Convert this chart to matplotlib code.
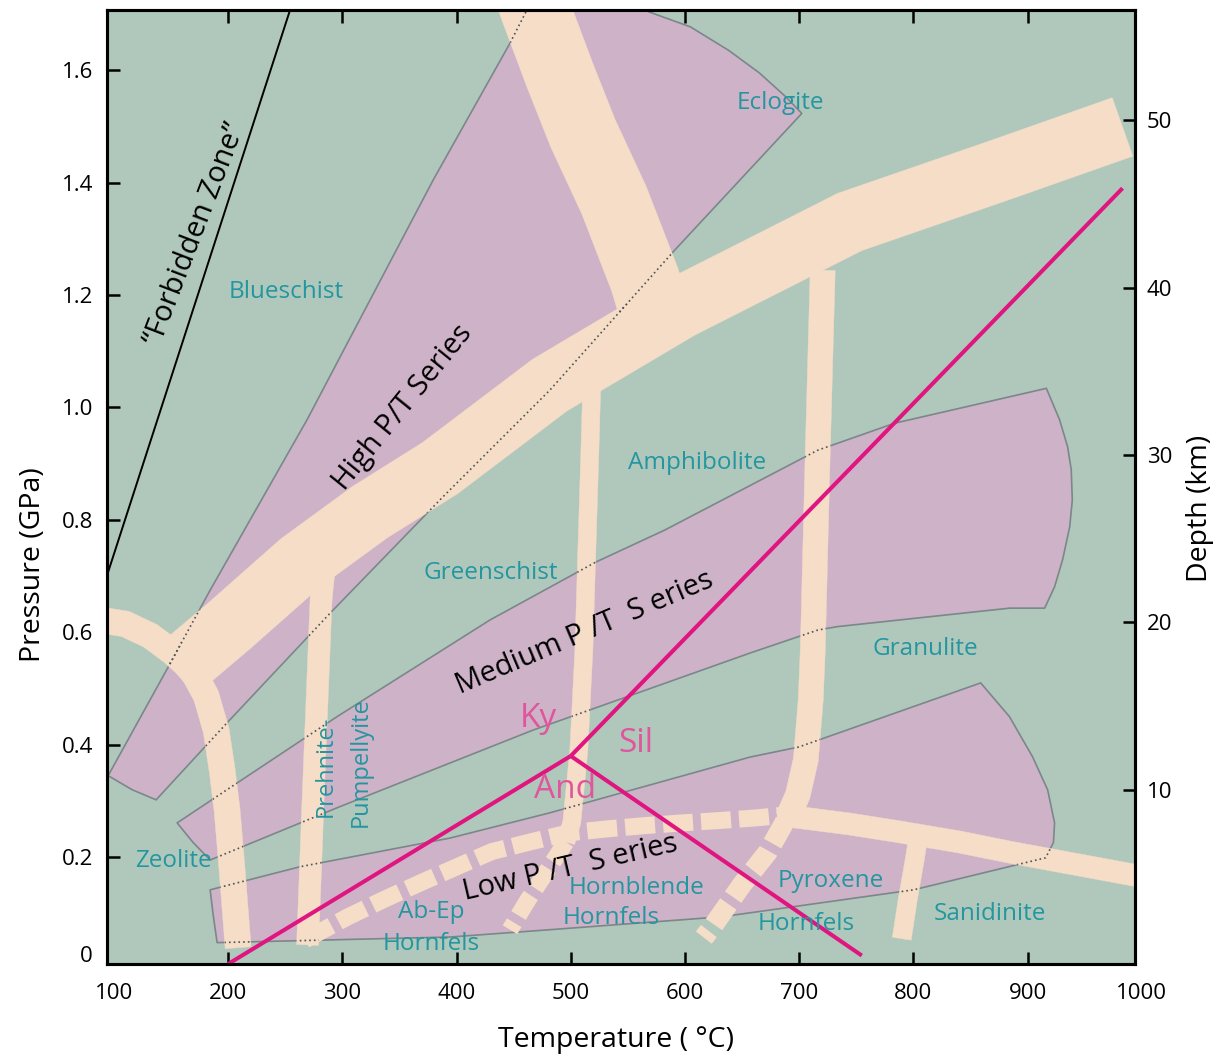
import numpy as np
import matplotlib
matplotlib.use("Agg")
import matplotlib.pyplot as plt
from matplotlib.patches import Polygon
from matplotlib.path import Path

plt.rcParams['font.family'] = ['Open Sans', 'DejaVu Sans']
plt.rcParams['lines.scale_dashes'] = False

# metamorphic facies diagram: T in degC, P in GPa

# purple P/T series fields
high_T = [95, 147.5, 184.3, 269.1, 379.4, 446.8, 461.6, 468.6, 560.5, 568.0, 604.8, 638.4, 665.2, 688.6, 702.3,
          591.1, 481.8, 388.1, 289.3, 199.1, 137.0, 116.0]
high_P = [0.345, 0.538, 0.675, 0.978, 1.404, 1.648, 1.707, 1.760, 1.760, 1.704, 1.677, 1.635, 1.595, 1.552, 1.523,
          1.280, 1.031, 0.841, 0.634, 0.439, 0.302, 0.320]

medium_T = [155.4, 207.9, 295.4, 429.3, 522.0, 582.4, 716.3, 783.6, 916.4, 928.0, 935.0, 938.2, 939.1, 936.8,
            930.6, 923.6, 914.9, 884.3, 732.9, 716.3, 656.8, 516.8, 466.9, 298.0, 184.3, 169.4]
medium_P = [0.261, 0.332, 0.450, 0.622, 0.725, 0.782, 0.924, 0.972, 1.034, 0.978, 0.930, 0.889, 0.835, 0.787,
            0.729, 0.681, 0.643, 0.643, 0.610, 0.604, 0.563, 0.462, 0.426, 0.290, 0.195, 0.226]

low_T = [184.3, 263.0, 394.3, 481.8, 656.8, 699.6, 858.9, 884.1, 904.2, 917.5, 923.6, 922.6, 915.8,
         800.3, 632.3, 481.8, 394.3, 190.4, 186.9]
low_P = [0.142, 0.183, 0.234, 0.279, 0.378, 0.396, 0.510, 0.450, 0.379, 0.320, 0.261, 0.226, 0.199,
         0.142, 0.094, 0.071, 0.058, 0.048, 0.098]

# facies boundaries (beige bands), centre lines
zeolite_band_T = [88, 109.9, 131.8, 151.0, 168.5, 180.8, 189.5, 194.8, 199.1, 203.5, 208.8]
zeolite_band_P = [0.622, 0.615, 0.594, 0.565, 0.533, 0.487, 0.426, 0.355, 0.284, 0.178, 0.039]

highpt_band_T = [153.6, 201.8, 263.0, 324.3, 385.5, 481.8, 595.5, 744.3, 875.5, 983.1]
highpt_band_P = [0.530, 0.613, 0.723, 0.814, 0.892, 1.040, 1.177, 1.330, 1.422, 1.499]

eclogite_band_T = [459.9, 469.1, 490.5, 510.6, 537.8, 564.9, 578.0]
eclogite_band_P = [1.760, 1.707, 1.591, 1.488, 1.369, 1.227, 1.138]

prehnite_band_T = [284.0, 281.4, 277.9, 274.4, 271.8, 269.6]
prehnite_band_P = [0.711, 0.658, 0.480, 0.302, 0.160, 0.044]

greenschist_band_T = [518.5, 516.8, 514.1, 511.5, 507.1, 501.0, 495.8]
greenschist_band_P = [1.049, 0.924, 0.746, 0.569, 0.391, 0.263, 0.227]

abep_band_T = [495.8, 480.0, 462.5, 446.8]
abep_band_P = [0.227, 0.178, 0.124, 0.071]

lowpt_band_T = [267.4, 305.0, 335.6, 368.0, 400.4, 431.0, 464.3, 497.5, 529.9, 564.0, 597.3, 628.8, 662.9, 687.4]
lowpt_band_P = [0.053, 0.094, 0.124, 0.154, 0.183, 0.210, 0.227, 0.243, 0.250, 0.256, 0.261, 0.265, 0.270, 0.275]

amphibolite_band_T = [720.6, 716.3, 711.9, 710.1, 705.8, 698.8, 690.0]
amphibolite_band_P = [1.244, 0.924, 0.569, 0.480, 0.373, 0.311, 0.270]

hornfels_band_T = [687.4, 672.5, 649.8, 625.3, 616.5]
hornfels_band_P = [0.263, 0.209, 0.151, 0.080, 0.057]

granulite_band_T = [683.0, 744.3, 788.0, 840.5, 884.3, 1006.8]
granulite_band_P = [0.275, 0.259, 0.245, 0.227, 0.209, 0.163]

sanidinite_band_T = [804.6, 801.1, 795.0, 789.8]
sanidinite_band_P = [0.240, 0.195, 0.124, 0.055]

# Al2SiO5 triple point and reactions
triple_T, triple_P = 500, 0.38
ky_and_end = (200, 0.01)
ky_sil_end = (983.1, 1.390)
and_sil_end = (754.8, 0.025)

forbidden_T = [90, 260]
forbidden_P = [0.676, 1.743]

facies_names = ["Eclogite", "Blueschist", "Amphibolite", "Greenschist", "Granulite", "Zeolite",
                "Sanidinite", "Ab-Ep", "Hornfels", "Hornblende", "Hornfels", "Pyroxene", "Hornfels"]
facies_T = [683.9, 250.8, 610.4, 430.1, 810.8, 151.9, 866.8, 377.6, 377.6, 557.9, 535.1, 727.6, 705.8]
facies_P = [1.541, 1.205, 0.901, 0.706, 0.571, 0.194, 0.099, 0.103, 0.046, 0.146, 0.092, 0.158, 0.081]

x_ticks = [100, 200, 300, 400, 500, 600, 700, 800, 900, 1000]
p_ticks = [0.2, 0.4, 0.6, 0.8, 1.0, 1.2, 1.4, 1.6]
depth_ticks = [10, 20, 30, 40, 50]

green = "#b0c8bc"
purple = "#cdb2c8"
beige = "#f5ddc7"
edge = "#7b8789"
dots = "#4d5556"
teal = "#23969f"
magenta = "#e0157f"
pink = "#e0559b"

fig = plt.figure(figsize=(12.19, 10.59), dpi=100)
ax = fig.add_axes([107 / 1219, 1 - 964 / 1059, 1028 / 1219, 954 / 1059])
ax.set_facecolor(green)
ax.set_xlim(94, 994)
ax.set_ylim(0.01, 1.707)


def band_outline(Ts, Ps, width_px):
    # outline of a thick band around a centre line, width in pixels, flat ends
    pts = ax.transData.transform(np.column_stack([Ts, Ps]))
    seg = np.diff(pts, axis=0)
    seg = seg / np.hypot(seg[:, 0], seg[:, 1])[:, None]
    nrm = np.column_stack([-seg[:, 1], seg[:, 0]])
    offs = np.empty_like(pts)
    offs[0] = nrm[0]
    offs[-1] = nrm[-1]
    for i in range(1, len(pts) - 1):
        m = nrm[i - 1] + nrm[i]
        m = m / np.hypot(*m)
        offs[i] = m / np.dot(m, nrm[i])
    hw = width_px / 2
    ring = np.vstack([pts + hw * offs, (pts - hw * offs)[::-1]])
    return ax.transData.inverted().transform(ring)


stripes = [(high_T, high_P), (medium_T, medium_P), (low_T, low_P)]
for Ts, Ps in stripes:
    ax.add_patch(Polygon(np.column_stack([Ts, Ps]), closed=True, facecolor=purple,
                         edgecolor=edge, lw=1.2, joinstyle='round', zorder=1))

solid_bands = [(zeolite_band_T, zeolite_band_P, 26), (highpt_band_T, highpt_band_P, 62),
               (eclogite_band_T, eclogite_band_P, 70), (prehnite_band_T, prehnite_band_P, 22),
               (greenschist_band_T, greenschist_band_P, 18), (amphibolite_band_T, amphibolite_band_P, 25),
               (granulite_band_T, granulite_band_P, 22), (sanidinite_band_T, sanidinite_band_P, 19)]
dashed_bands = [(abep_band_T, abep_band_P, 17, (17, 6)), (lowpt_band_T, lowpt_band_P, 17, (21.6, 5.8)),
                (hornfels_band_T, hornfels_band_P, 20, (18, 6))]

clip_rings = []
for Ts, Ps, w in solid_bands:
    ring = band_outline(Ts, Ps, w)
    ax.add_patch(Polygon(ring, closed=True, facecolor=beige, edgecolor=beige, lw=0.3, zorder=2))
    clip_rings.append(ring)
for Ts, Ps, w, dash in dashed_bands:
    ax.plot(Ts, Ps, color=beige, lw=w * 0.72, ls=(0, dash), dash_capstyle='butt',
            dash_joinstyle='round', zorder=2)

# field outlines continue as dotted lines beneath the boundary bands
for Ts, Ps in stripes:
    xs = list(Ts) + [Ts[0]]
    ys = list(Ps) + [Ps[0]]
    for ring in clip_rings:
        ln, = ax.plot(xs, ys, color=dots, lw=1.2, ls=(0, (1.2, 2.2)), zorder=3)
        ln.set_clip_path(Path(ring), ax.transData)

ax.plot(forbidden_T, forbidden_P, color='black', lw=1.4, zorder=4)
for end in [ky_and_end, ky_sil_end, and_sil_end]:
    ax.plot([triple_T, end[0]], [triple_P, end[1]], color=magenta, lw=2.9,
            solid_capstyle='butt', zorder=4)

for name, t, p in zip(facies_names, facies_T, facies_P):
    ax.text(t, p, name, color=teal, fontsize=17.5, ha='center', va='center', zorder=5)
ax.text(285.8, 0.361, "Prehnite-", color=teal, fontsize=17, rotation=90, ha='center', va='center', zorder=5)
ax.text(316.4, 0.370, "Pumpellyite", color=teal, fontsize=17, rotation=90, ha='center', va='center', zorder=5)

ax.text(353.1, 0.999, "High P/T Series", fontsize=21, rotation=51, ha='center', va='center', zorder=5)
ax.text(512.4, 0.599, "Medium P /T  S eries", fontsize=21, rotation=23, ha='center', va='center', zorder=5)
ax.text(499.3, 0.181, "Low P /T  S eries", fontsize=21, rotation=13, ha='center', va='center', zorder=5)
ax.text(171.1, 1.308, "\u201cForbidden Zone\u201d", fontsize=21, rotation=69, ha='center', va='center', zorder=5)

ax.text(471.3, 0.446, "Ky", color=pink, fontsize=24, ha='center', va='center', zorder=5)
ax.text(557.0, 0.402, "Sil", color=pink, fontsize=24, ha='center', va='center', zorder=5)
ax.text(494.9, 0.320, "And", color=pink, fontsize=24, ha='center', va='center', zorder=5)

for s in ax.spines.values():
    s.set_linewidth(2.2)
ax.set_xticks(x_ticks[1:-1])
ax.set_xticklabels([])
ax.set_yticks(p_ticks)
ax.set_yticklabels([f"{v:.1f}" for v in p_ticks])
ax.tick_params(direction='in', length=9, width=1.8, top=True, right=False, labelsize=16)
ax.tick_params(axis='y', pad=10)
for v in x_ticks:
    ax.text(v, -0.0304, str(v), transform=ax.get_xaxis_transform(), fontsize=16,
            ha='center', va='center', clip_on=False)
ax.text(-0.0136, 0.023, "0", transform=ax.get_yaxis_transform(), fontsize=16,
        ha='right', va='center', clip_on=False)

ax2 = ax.twinx()
ax2.set_ylim((0.01 - 0.022) / 0.02978, (1.707 - 0.022) / 0.02978)
ax2.set_yticks(depth_ticks)
ax2.tick_params(direction='in', length=9, width=1.8, labelsize=16, pad=8.6)
for s in ax2.spines.values():
    s.set_linewidth(2.2)

fig.text(616 / 1219, 1 - 1040 / 1059, "Temperature ( \u00b0C)", fontsize=20.5, ha='center', va='center')
fig.text(33 / 1219, 1 - 565 / 1059, "Pressure (GPa)", fontsize=20.5, rotation=90, ha='center', va='center')
fig.text(1200 / 1219, 1 - 508 / 1059, "Depth (km)", fontsize=20.5, rotation=90, ha='center', va='center')

fig.savefig("out.png", dpi=100)
